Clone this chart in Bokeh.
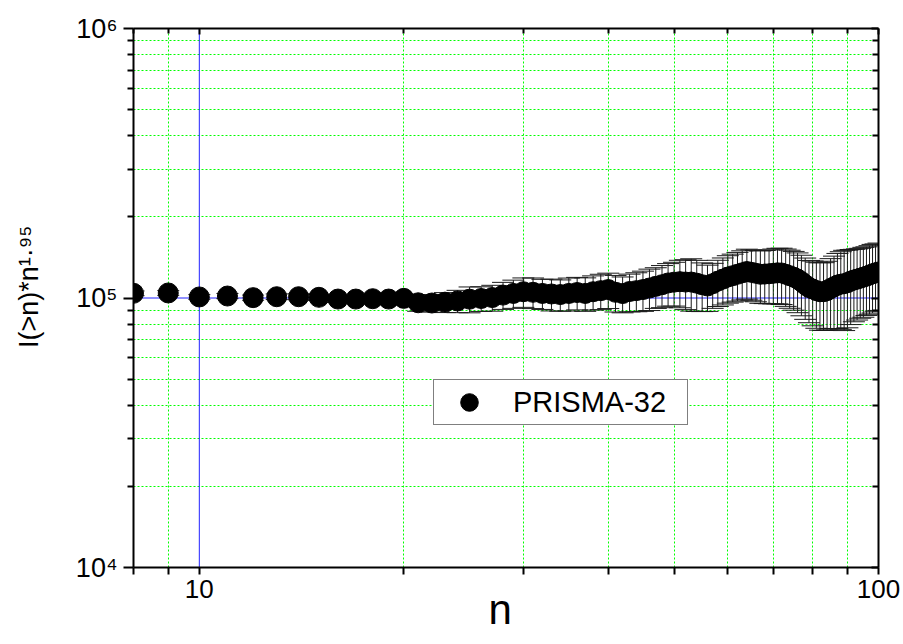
from bokeh.plotting import figure
from bokeh.models import (Range1d, FixedTicker, LogAxis, Whisker, TeeHead, ColumnDataSource,
                          Span, Legend, LegendItem, CustomJSTickFormatter)
from bokeh.embed import file_html
from bokeh.resources import INLINE

# ---------------- data ----------------
n_values = list(range(8, 101))
i_values = [
    104100, 104400, 100900, 101700, 100300, 101100, 101100, 100600, 99100, 99100,   # 8-17
    99400, 99100, 99700, 96000, 95800, 96500, 97500, 99000, 99600, 100400,         # 18-27
    102500, 104000, 105500, 105000, 104000, 103500, 103000, 104000, 104800, 104000, # 28-37
    105500, 106500, 107500, 105000, 103900, 105700, 106500, 107500, 108900, 110500, # 38-47
    112000, 113700, 114500, 115000, 114600, 114600, 113500, 112000, 110800, 113000, # 48-57
    115500, 117500, 119600, 121000, 122500, 124000, 125400, 124500, 123500, 122500, # 58-67
    122700, 123000, 123500, 124000, 123800, 122500, 121000, 119500, 117600, 115000, # 68-77
    112000, 109400, 108000, 106500, 105500, 105500, 106500, 108500, 110000, 111700, # 78-87
    112500, 113000, 114000, 115500, 116600, 117500, 118500, 119500, 120500, 121700, # 88-97
    123000, 124000, 124900,                                                         # 98-100
]
rel_errors = [
    0.020, 0.020, 0.020, 0.022, 0.022, 0.024, 0.025, 0.026, 0.028, 0.030,   # 8-17
    0.031, 0.033, 0.035, 0.070, 0.075, 0.085, 0.095, 0.110, 0.105, 0.110,   # 18-27
    0.115, 0.120, 0.125, 0.130, 0.128, 0.135, 0.133, 0.140, 0.138, 0.142,   # 28-37
    0.145, 0.150, 0.150, 0.155, 0.152, 0.160, 0.165, 0.170, 0.175, 0.172,   # 38-47
    0.178, 0.180, 0.185, 0.200, 0.210, 0.220, 0.215, 0.205, 0.195, 0.190,   # 48-57
    0.195, 0.198, 0.200, 0.202, 0.205, 0.207, 0.210, 0.212, 0.216, 0.220,   # 58-67
    0.223, 0.226, 0.230, 0.233, 0.236, 0.240, 0.243, 0.246, 0.250, 0.253,   # 68-77
    0.256, 0.260, 0.270, 0.275, 0.280, 0.282, 0.285, 0.290, 0.300, 0.310,   # 78-87
    0.320, 0.330, 0.320, 0.310, 0.300, 0.295, 0.290, 0.290, 0.285, 0.285,   # 88-97
    0.285, 0.280, 0.280,                                                    # 98-100
]
x_major_ticks = [10, 100]
x_tick_labels = ["10", "100"]
x_minor_ticks = [8, 9, 20, 30, 40, 50, 60, 70, 80, 90]
y_major_ticks = [1e4, 1e5, 1e6]
y_minor_ticks = [2e4, 3e4, 4e4, 5e4, 6e4, 7e4, 8e4, 9e4,
                 2e5, 3e5, 4e5, 5e5, 6e5, 7e5, 8e5, 9e5]
y_tick_labels = ["10\u2074", "10\u2075", "10\u2076"]
x_lo, x_hi = 8, 100
y_lo, y_hi = 1e4, 1e6
ref_x, ref_y = 10, 1e5
series_name = "PRISMA-32"
x_title = "n\u00a0"
y_title = "\u00a0\u00a0\u00a0I(>n)*n\u00b9\u00b7\u2079\u2075"

FONT = "Liberation Sans"

lower = [v * (1 - e) for v, e in zip(i_values, rel_errors)]
upper = [v * (1 + e) for v, e in zip(i_values, rel_errors)]
src = ColumnDataSource(dict(n=n_values, v=i_values, lo=lower, hi=upper))

p = figure(width=903, height=644, x_axis_type="log", y_axis_type="log",
           x_range=Range1d(x_lo, x_hi), y_range=Range1d(y_lo, y_hi),
           output_backend="svg", toolbar_location=None,
           min_border_left=133, min_border_right=25, min_border_top=28, min_border_bottom=77,
           background_fill_color="white", border_fill_color="white")
p.outline_line_color = None

xticker = FixedTicker(ticks=x_major_ticks, minor_ticks=x_minor_ticks)
yticker = FixedTicker(ticks=y_major_ticks, minor_ticks=y_minor_ticks)
empty = CustomJSTickFormatter(code="return ''")
LOOKUP = """
    for (let i = 0; i < major_vals.length; i++) {
        if (Math.abs(major_vals[i] - tick) < 1e-6 * major_vals[i]) { return major_texts[i] }
    }
    return ''
"""
xlabels = CustomJSTickFormatter(args=dict(major_vals=x_major_ticks, major_texts=x_tick_labels), code=LOOKUP)
ylabels = CustomJSTickFormatter(args=dict(major_vals=y_major_ticks, major_texts=y_tick_labels), code=LOOKUP)

# grids: dotted green at minor ticks only
for g, t in ((p.xgrid, xticker), (p.ygrid, yticker)):
    g.ticker = t
    g.grid_line_color = None
    g.minor_grid_line_color = "#00ff00"
    g.minor_grid_line_dash = "2 2"
    g.minor_grid_line_width = 1

# bottom axis
xa = p.xaxis[0]
xa.ticker = xticker
xa.formatter = xlabels
xa.axis_line_width = 2
xa.major_tick_in = 0
xa.major_tick_out = 7
xa.minor_tick_in = 0
xa.minor_tick_out = 7
xa.major_tick_line_width = 2
xa.minor_tick_line_width = 2
xa.major_label_text_font = FONT
xa.major_label_text_font_size = "26px"
xa.major_label_text_color = "black"
xa.major_label_standoff = 5
xa.axis_label = x_title
xa.axis_label_text_font = FONT
xa.axis_label_text_font_size = "42px"
xa.axis_label_text_font_style = "normal"
xa.axis_label_text_color = "black"
xa.axis_label_standoff = -15

# left axis
ya = p.yaxis[0]
ya.ticker = yticker
ya.formatter = ylabels
ya.axis_line_width = 2
ya.major_tick_in = 0
ya.major_tick_out = 10
ya.minor_tick_in = 0
ya.minor_tick_out = 6
ya.major_tick_line_width = 2
ya.minor_tick_line_width = 2
ya.major_label_text_font = FONT
ya.major_label_text_font_size = "27px"
ya.major_label_text_color = "black"
ya.major_label_standoff = 6
ya.axis_label = y_title
ya.axis_label_text_font = FONT
ya.axis_label_text_font_size = "27px"
ya.axis_label_text_font_style = "normal"
ya.axis_label_text_color = "black"
ya.axis_label_standoff = 29

# top and right axes (ticks inward, no labels)
top = LogAxis(ticker=xticker, formatter=empty, axis_line_width=2,
              major_tick_in=6, major_tick_out=0, minor_tick_in=5, minor_tick_out=0,
              major_tick_line_width=2, minor_tick_line_width=2, major_label_standoff=0)
right = LogAxis(ticker=yticker, formatter=empty, axis_line_width=2,
                major_tick_in=7, major_tick_out=0, minor_tick_in=6, minor_tick_out=0,
                major_tick_line_width=2, minor_tick_line_width=2, major_label_standoff=0)
p.add_layout(top, "above")
p.add_layout(right, "right")

# reference lines
p.add_layout(Span(location=ref_x, dimension="height", line_color="#2222ff", line_width=1, level="underlay"))
p.add_layout(Span(location=ref_y, dimension="width", line_color="#2222ff", line_width=1, level="underlay"))

# error bars
p.add_layout(Whisker(source=src, base="n", upper="hi", lower="lo", dimension="height",
                     line_color="#1a1a1a", line_width=1, level="underlay",
                     upper_head=TeeHead(size=22, line_color="#1a1a1a", line_width=1),
                     lower_head=TeeHead(size=22, line_color="#1a1a1a", line_width=1)))

r = p.scatter("n", "v", source=src, size=20, marker="circle",
              fill_color="black", line_color="black")

legend = Legend(items=[LegendItem(label=series_name, renderers=[r])],
                location=(300, 142), padding=0, spacing=0, margin=0,
                glyph_width=70, glyph_height=44, label_standoff=9, label_width=174,
                label_text_font=FONT, label_text_font_size="29px", label_text_color="black",
                border_line_color="black", border_line_width=1.5,
                background_fill_color="white", background_fill_alpha=1)
p.add_layout(legend)

open("out.html", "w").write(file_html(p, INLINE))
